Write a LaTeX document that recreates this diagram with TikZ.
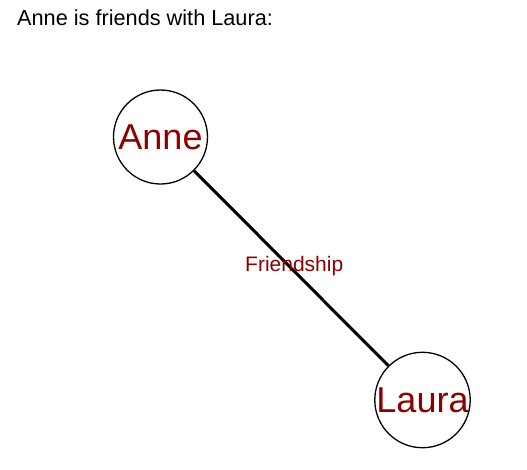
\documentclass[tikz,border=0pt]{standalone}
\usepackage{fontspec}
\setmainfont{Liberation Sans}
\definecolor{namered}{RGB}{139,0,0}
\begin{document}
\begin{tikzpicture}[x=1pt,y=1pt,
  person/.style={circle,draw=black,line width=1.3pt,minimum size=94pt,inner sep=0pt,
    text=namered,font=\fontsize{36}{36}\selectfont},
  rel/.style={line width=3pt,draw=black},
  rellabel/.style={text=namered,font=\fontsize{21}{21}\selectfont,inner sep=0pt},
  title/.style={anchor=base west,inner sep=0pt,font=\fontsize{21.7}{21.7}\selectfont}]
\useasboundingbox (0,0) rectangle (527,-469);
\node[title] (t) at (17,-25) {Anne is friends with Laura:};
\node[person] (anne) at (160.5,-137) {Anne};
\node[person] (laura) at (422.5,-400) {Laura};
\draw[rel] (anne) -- (laura) node[rellabel,pos=0.5,xshift=3pt,yshift=2pt] (f) {Friendship};
\end{tikzpicture}
\end{document}
